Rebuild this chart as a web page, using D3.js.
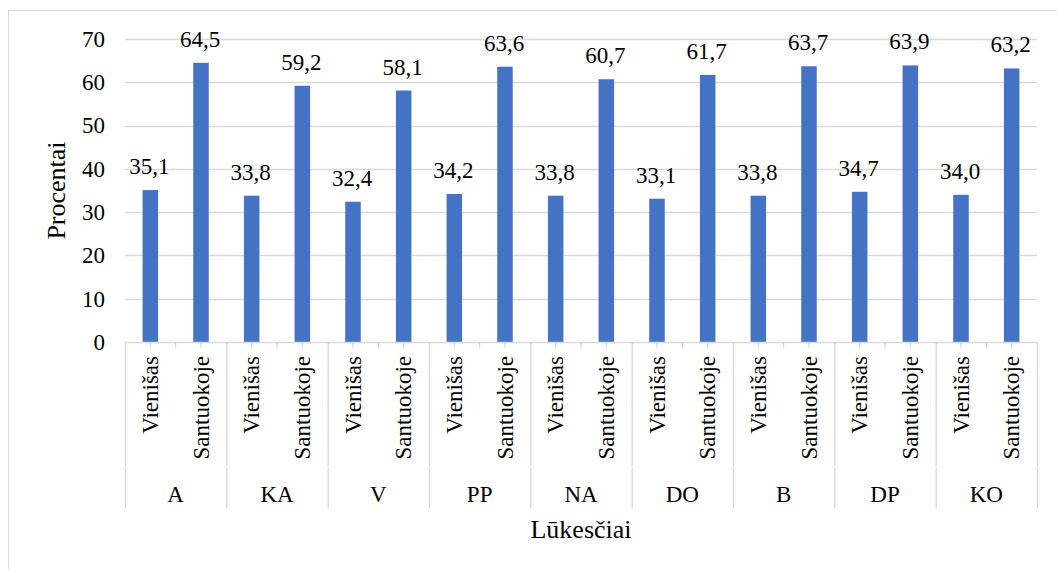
<!DOCTYPE html>
<html>
<head>
<meta charset="utf-8">
<script src="https://cdn.jsdelivr.net/npm/d3@7"></script>
<style>
  html, body { margin: 0; padding: 0; background: #fff; }
  svg { display: block; }
  text { font-family: "Liberation Serif", "Times New Roman", serif; fill: #000; }
</style>
</head>
<body>
<script>
const groups = ["A", "KA", "V", "PP", "NA", "DO", "B", "DP", "KO"];
const series = ["Vienišas", "Santuokoje"];
const vienisas = [35.1, 33.8, 32.4, 34.2, 33.8, 33.1, 33.8, 34.7, 34.0];
const santuokoje = [64.5, 59.2, 58.1, 63.6, 60.7, 61.7, 63.7, 63.9, 63.2];
const yTicks = [0, 10, 20, 30, 40, 50, 60, 70];
const yTitle = "Procentai";
const xTitle = "Lūkesčiai";

const W = 1057, H = 569;
const plotL = 125, plotR = 1037, plotT = 39, plotB = 342;
const sepBottom = 508;

const svg = d3.select("body").append("svg").attr("width", W).attr("height", H);

// outer chart border
svg.append("rect").attr("x", 8.5).attr("y", 10.5).attr("width", 1100).attr("height", 700)
  .attr("fill", "none").attr("stroke", "#D9D9D9").attr("stroke-width", 1);

const y = d3.scaleLinear().domain([0, 70]).range([plotB, plotT]);
const x0 = d3.scaleBand().domain(groups).range([plotL, plotR]).paddingInner(0).paddingOuter(0);
const x1 = d3.scaleBand().domain(series).range([0, x0.bandwidth()]);
const barW = x1.bandwidth() * 0.306;

// gridlines
svg.append("g").selectAll("line").data(yTicks.filter(t => t > 0)).join("line")
  .attr("x1", plotL).attr("x2", plotR)
  .attr("y1", d => Math.round(y(d)) + 0.5).attr("y2", d => Math.round(y(d)) + 0.5)
  .attr("stroke", "#D9D9D9").attr("stroke-width", 1.3);

// y tick labels
svg.append("g").selectAll("text").data(yTicks).join("text")
  .attr("x", 105).attr("y", d => y(d)).attr("dy", "0.34em")
  .attr("text-anchor", "end").attr("font-size", 23)
  .text(d => d);

// data
const rows = [];
groups.forEach((g, i) => {
  rows.push({ g, s: series[0], v: vienisas[i] });
  rows.push({ g, s: series[1], v: santuokoje[i] });
});
const cx = d => x0(d.g) + x1(d.s) + x1.bandwidth() / 2;

// bars
svg.append("g").selectAll("rect").data(rows).join("rect")
  .attr("x", d => cx(d) - barW / 2).attr("width", barW)
  .attr("y", d => y(d.v)).attr("height", d => y(0) - y(d.v))
  .attr("fill", "#4472C4");

// value labels
svg.append("g").selectAll("text").data(rows).join("text")
  .attr("x", d => cx(d) - 1).attr("y", d => y(d.v) - 16)
  .attr("text-anchor", "middle").attr("font-size", 23)
  .text(d => d.v.toFixed(1).replace(".", ","));

// x axis line
svg.append("line").attr("x1", plotL).attr("x2", plotR + 0.5)
  .attr("y1", plotB + 0.5).attr("y2", plotB + 0.5)
  .attr("stroke", "#D9D9D9").attr("stroke-width", 1.5);

// small ticks at bar centres and between subcategories
const smallTicks = [];
groups.forEach(g => {
  series.forEach(s => smallTicks.push(x0(g) + x1(s) + x1.bandwidth() / 2));
  smallTicks.push(x0(g) + x1(series[1]));
});
svg.append("g").selectAll("line").data(smallTicks).join("line")
  .attr("x1", d => d).attr("x2", d => d)
  .attr("y1", plotB).attr("y2", plotB + 6)
  .attr("stroke", "#D9D9D9").attr("stroke-width", 1.3);

// group separators
const seps = groups.map(g => x0(g)).concat([plotR]);
const sepG = svg.append("g");
sepG.selectAll("line.a").data(seps).join("line").attr("class", "a")
  .attr("x1", d => d + 0.5).attr("x2", d => d + 0.5)
  .attr("y1", plotB).attr("y2", 466)
  .attr("stroke", "#D9D9D9").attr("stroke-width", 1.5);
sepG.selectAll("line.b").data(seps).join("line").attr("class", "b")
  .attr("x1", d => d + 0.5).attr("x2", d => d + 0.5)
  .attr("y1", 468).attr("y2", sepBottom)
  .attr("stroke", "#D9D9D9").attr("stroke-width", 1.5);

// subcategory labels (rotated)
svg.append("g").selectAll("text").data(rows).join("text")
  .attr("transform", d => `translate(${cx(d) + 7.8},356) rotate(-90)`)
  .attr("text-anchor", "end").attr("font-size", 23)
  .text(d => d.s);

// group labels
svg.append("g").selectAll("text").data(groups).join("text")
  .attr("x", g => x0(g) + x0.bandwidth() / 2).attr("y", 502)
  .attr("text-anchor", "middle").attr("font-size", 23)
  .text(g => g);

// axis titles
svg.append("text")
  .attr("transform", `translate(65,${(plotT + plotB) / 2}) rotate(-90)`)
  .attr("text-anchor", "middle").attr("font-size", 26)
  .text(yTitle);

svg.append("text")
  .attr("x", (plotL + plotR) / 2).attr("y", 538)
  .attr("text-anchor", "middle").attr("font-size", 26)
  .text(xTitle);
</script>
</body>
</html>
